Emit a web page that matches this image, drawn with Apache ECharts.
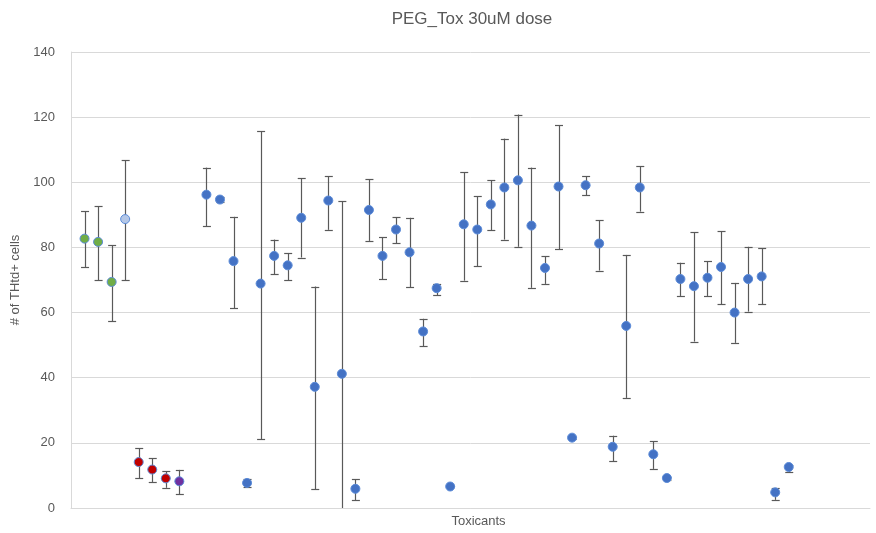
<!DOCTYPE html>
<html>
<head>
<meta charset="utf-8">
<script src="https://cdn.jsdelivr.net/npm/echarts@6/dist/echarts.min.js"></script>
<style>
html,body{margin:0;padding:0;background:#fff;}
#chart{width:876px;height:533px;}
</style>
</head>
<body>
<div id="chart"></div>
<script>
// Position of each toxicant along the (unlabelled) x axis
const positions = [1,2,3,4,5,6,7,8,10,11,12,13,14,15,16,17,18,19,20,21,22,23,24,25,26,27,28,29,30,31,32,33,34,35,36,37,38,39,40,41,42,43,44,45,46,47,48,49,50,51,52,53];
// Mean number of THtd+ cells
const means = [82.7,81.7,69.4,88.7,14.1,11.8,9.1,8.2,96.2,94.7,75.8,7.7,68.9,77.4,74.5,89.1,37.2,94.4,41.2,5.9,91.5,77.4,85.5,78.5,54.2,67.5,6.6,87.1,85.5,93.2,98.4,100.6,86.7,73.7,98.7,21.6,99.1,81.2,18.8,55.9,98.4,16.5,9.2,70.3,68.1,70.7,74.0,60.0,70.3,71.1,4.8,12.6];
// Lower and upper ends of the error bars
const lows  = [74.0,69.9,57.4,69.9,9.1,8.0,6.2,4.3,86.5,94.0,61.3,6.5,21.2,71.8,69.9,76.9,5.8,85.4,-15.0,2.4,82.0,70.2,81.3,67.7,49.6,65.4,6.3,69.8,74.3,85.3,82.4,80.2,67.6,68.8,79.4,21.3,96.1,72.9,14.3,33.8,91.0,12.0,8.7,65.1,51.1,65.1,62.6,50.7,60.3,62.6,2.5,11.0];
const highs = [91.1,92.7,80.6,106.8,18.3,15.3,11.3,11.7,104.5,95.4,89.4,8.9,115.6,82.4,78.3,101.2,68.0,101.9,94.2,8.8,100.9,83.2,89.3,89.1,58.1,68.7,6.9,103.1,95.7,100.6,113.4,120.8,104.5,77.3,117.5,21.9,101.9,88.3,22.2,77.7,104.9,20.5,9.6,75.3,84.6,75.7,84.9,69.1,80.2,79.8,6.1,13.3];
// Group of each point (drives marker fill)
const groups = ['green','green','green','light','red','red','red','purple','blue','blue','blue','blue','blue','blue','blue','blue','blue','blue','blue','blue','blue','blue','blue','blue','blue','blue','blue','blue','blue','blue','blue','blue','blue','blue','blue','blue','blue','blue','blue','blue','blue','blue','blue','blue','blue','blue','blue','blue','blue','blue','blue','blue'];
const yTicks = [0,20,40,60,80,100,120,140];

const groupColors = {green:'#70AD47', light:'#B4C7E7', red:'#C00000', purple:'#7030A0', blue:'#4472C4'};
const Y_MIN = yTicks[0], Y_MAX = yTicks[yTicks.length-1];

const pointData = positions.map((x,i)=>({
  value:[x, means[i]],
  itemStyle:{color:groupColors[groups[i]]}
}));
const errData = positions.map((x,i)=>[x, lows[i], highs[i]]);

const chart = echarts.init(document.getElementById('chart'), null, {renderer:'canvas'});
const font = 'Liberation Sans, Arial, sans-serif';
chart.setOption({
  animation:false,
  backgroundColor:'#fff',
  title:{
    text:'PEG_Tox 30uM dose',
    left:467, textAlign:'center', top:6,
    textStyle:{fontFamily:font, fontSize:17, fontWeight:'normal', color:'#595959'}
  },
  grid:{left:71, right:6, top:52, bottom:24},
  xAxis:{
    type:'value', min:0, max:59,
    name:'Toxicants', nameLocation:'middle', nameGap:7,
    nameTextStyle:{fontFamily:font, fontSize:13, color:'#595959', padding:[0,0,0,16]},
    axisLine:{show:true, lineStyle:{color:'#d9d9d9', width:1}},
    axisTick:{show:false}, axisLabel:{show:false}, splitLine:{show:false}
  },
  yAxis:{
    type:'value', min:Y_MIN, max:Y_MAX, interval:20,
    name:'# of THtd+ cells', nameLocation:'middle', nameGap:44,
    nameTextStyle:{fontFamily:font, fontSize:13, color:'#595959'},
    axisLine:{show:true, lineStyle:{color:'#d9d9d9', width:1}},
    axisTick:{show:false},
    axisLabel:{fontFamily:font, fontSize:13, color:'#595959', margin:16},
    splitLine:{show:true, lineStyle:{color:'#d9d9d9', width:1}}
  },
  series:[
    {
      type:'custom',
      clip:true,
      z:2,
      data:errData,
      renderItem:function(params, api){
        const x = api.value(0);
        let lo = api.value(1), hi = api.value(2);
        const loClipped = lo < Y_MIN, hiClipped = hi > Y_MAX;
        lo = Math.max(lo, Y_MIN); hi = Math.min(hi, Y_MAX);
        const pLo = api.coord([x, lo]);
        const pHi = api.coord([x, hi]);
        const cap = 3.5;
        const style = {stroke:'#595959', lineWidth:1.2, fill:null};
        const children = [
          {type:'line', shape:{x1:Math.round(pLo[0])+0.5, y1:pLo[1], x2:Math.round(pHi[0])+0.5, y2:pHi[1]}, style:style}
        ];
        if(!hiClipped) children.push({type:'line', shape:{x1:pHi[0]-cap, y1:Math.round(pHi[1])+0.5, x2:pHi[0]+cap+1, y2:Math.round(pHi[1])+0.5}, style:style});
        if(!loClipped) children.push({type:'line', shape:{x1:pLo[0]-cap, y1:Math.round(pLo[1])+0.5, x2:pLo[0]+cap+1, y2:Math.round(pLo[1])+0.5}, style:style});
        return {type:'group', children:children};
      }
    },
    {
      type:'scatter',
      z:3,
      symbol:'circle',
      symbolSize:9,
      data:pointData,
      itemStyle:{borderColor:'#5B8BD8', borderWidth:1, opacity:1}
    }
  ]
});
</script>
</body>
</html>
